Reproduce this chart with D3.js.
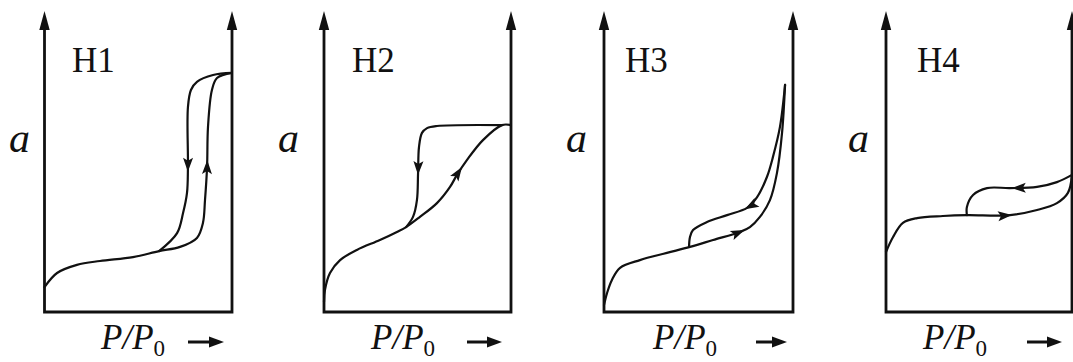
<!DOCTYPE html>
<html>
<head>
<meta charset="utf-8">
<script src="https://cdn.jsdelivr.net/npm/d3@7/dist/d3.min.js"></script>
<style>
  html, body { margin: 0; padding: 0; background: #fff; }
  svg { display: block; }
</style>
</head>
<body>
<svg id="chart" width="1073" height="362"></svg>
<script>
// ---------------- DATA (relative pressure u: 0..100, adsorbed amount v: 0..100) ----------------
const panelNames = ["H1", "H2", "H3", "H4"];
const yAxisLabel = "a";
const xAxisLabel = ["P", "/", "P", "0"];

const h1Adsorption = [[0,8.3],[6.7,13],[17.3,15.7],[29.6,17],[47.2,18.3],[61.1,20.3],[72.3,21.7],[81.3,24.7],[84.5,29.7],[85.6,37.3],[86.7,48.3],[87.2,61.7],[89.3,74],[92,78],[100,79.7]];
const h1Desorption = [[100,79.7],[89.9,79],[81.3,76.7],[78.1,74],[76.5,68.3],[76.5,48.3],[76,39.7],[73.9,33],[70.7,26.3],[61.1,20.3]];

const h2Adsorption = [[0,3.3],[0.5,7.3],[3.2,13],[8.6,17.3],[17.6,20.7],[29.9,24],[39,26.7],[43.9,28.3],[51.3,31.7],[60.4,36.3],[67.4,41.7],[71.1,45.7],[76.5,50.7],[85,57.3],[95.2,62.3],[100,62.3]];
const h2Desorption = [[95.2,62.3],[60.4,62],[55.1,61.3],[52.4,59.7],[50.8,55],[50.3,46.3],[49.7,37.3],[47.6,31.7],[43.9,28.3]];

const h3Adsorption = [[0,2.3],[1.6,6.3],[4.2,10.7],[8.5,14.7],[19,17.3],[33.3,19.7],[45.5,21.7],[57.7,24],[72,26.7],[77.2,28.3],[82.5,31.7],[87.8,37.3],[91.5,46.3],[94.2,59.7],[95.8,75.7]];
const h3Desorption = [[95.8,75.7],[93.1,61.7],[89.4,51.7],[86.2,45],[81,38.3],[75.7,34.7],[65.1,32.3],[54.5,30],[47.1,27.3],[45.5,25],[45,21.7]];

const h4Adsorption = [[0,20],[3.8,25],[9.1,29.7],[16.7,31.3],[30.6,32],[43.5,32.3],[66.7,32.3],[81.2,34],[91.9,36.3],[97.8,39.7],[100,45.7]];
const h4Desorption = [[100,45.7],[91.9,43.3],[81.2,41.7],[66.7,41.3],[54.3,41.3],[46.8,39],[43.5,35],[43.5,32.3]];

const adsorption = [h1Adsorption, h2Adsorption, h3Adsorption, h4Adsorption];
const desorption = [h1Desorption, h2Desorption, h3Desorption, h4Desorption];

// arrow markers on the branches (data coords of the arrow tip)
const adsArrowAt = [[86.9,50.7],[73.3,48.4],[73.7,28.4],[67.6,32.3]];
const desArrowAt = [[76.5,46.7],[50.4,45.7],[74.6,34],[67.6,41.2]];

// ---------------- LAYOUT (pixels) ----------------
const layout = [
  {x0: 44.5, x1: 232,  label: 72,  a: 9,   pp: 101, arr: [188, 224]},
  {x0: 324,  x1: 511,  label: 352, a: 278, pp: 371, arr: [467, 502]},
  {x0: 604,  x1: 793,  label: 625, a: 566, pp: 653, arr: [756, 787]},
  {x0: 886,  x1: 1072, label: 917, a: 848, pp: 923, arr: [1027, 1062]}
];
const yBottom = 312, yTop = 12;
const ink = "#111";
const serif = "'Liberation Serif', 'Times New Roman', Times, serif";

const svg = d3.select("#chart");

function headPath(len, half, notch) {
  return `M0,0 L${-len},${-half} L${-len + notch},0 L${-len},${half} Z`;
}

panelNames.forEach((name, i) => {
  const L = layout[i];
  const x = d3.scaleLinear().domain([0, 100]).range([L.x0, L.x1]);
  const y = d3.scaleLinear().domain([0, 100]).range([yBottom, yTop]);
  const g = svg.append("g");

  // frame: left axis, right axis, bottom
  g.append("path")
    .attr("d", `M${x(0)},${y(100) + 10} L${x(0)},${y(0)} L${x(100)},${y(0)} L${x(100)},${y(100) + 10}`)
    .attr("fill", "none").attr("stroke", ink).attr("stroke-width", 2.8)
    .attr("stroke-linejoin", "miter");
  [0, 100].forEach(u => {
    g.append("path")
      .attr("d", headPath(19, 5.2, 0))
      .attr("transform", `translate(${x(u)},${y(100) - 1}) rotate(-90)`)
      .attr("fill", ink);
  });

  // curves
  const line = d3.line().x(d => x(d[0])).y(d => y(d[1])).curve(d3.curveCatmullRom.alpha(0.5));
  const branches = [
    {data: adsorption[i], at: adsArrowAt[i]},
    {data: desorption[i], at: desArrowAt[i]}
  ];
  branches.forEach(b => {
    const p = g.append("path")
      .attr("d", line(b.data))
      .attr("fill", "none").attr("stroke", ink).attr("stroke-width", 2.2)
      .attr("stroke-linecap", "round");
    const node = p.node();
    const total = node.getTotalLength();
    const tx = x(b.at[0]), ty = y(b.at[1]);
    let best = 0, bestD = Infinity;
    for (let l = 0; l <= total; l += 0.5) {
      const pt = node.getPointAtLength(l);
      const d = (pt.x - tx) ** 2 + (pt.y - ty) ** 2;
      if (d < bestD) { bestD = d; best = l; }
    }
    const pt = node.getPointAtLength(best);
    const a0 = node.getPointAtLength(Math.max(0, best - 3));
    const a1 = node.getPointAtLength(Math.min(total, best + 1));
    const ang = Math.atan2(a1.y - a0.y, a1.x - a0.x) * 180 / Math.PI;
    g.append("path")
      .attr("d", headPath(14, 5, 3))
      .attr("transform", `translate(${pt.x},${pt.y}) rotate(${ang})`)
      .attr("fill", ink);
  });

  // labels
  g.append("text")
    .attr("x", L.label).attr("y", 72)
    .style("font-family", serif).style("font-size", "35px").attr("fill", ink)
    .text(name);

  g.append("text")
    .attr("x", L.a).attr("y", 152)
    .style("font-family", serif).style("font-size", "42px").style("font-style", "italic")
    .attr("fill", ink)
    .text(yAxisLabel);

  const t = g.append("text").attr("x", L.pp).attr("y", 349)
    .style("font-family", serif).style("font-size", "35px").attr("fill", ink);
  t.append("tspan").style("font-style", "italic").text(xAxisLabel[0]);
  t.append("tspan").style("font-style", "italic").text(xAxisLabel[1]);
  t.append("tspan").style("font-style", "italic").text(xAxisLabel[2]);
  t.append("tspan").style("font-size", "23px").attr("dy", 7).text(xAxisLabel[3]);

  // P/P0 direction arrow
  g.append("line")
    .attr("x1", L.arr[0]).attr("y1", 342).attr("x2", L.arr[1] - 8).attr("y2", 342)
    .attr("stroke", ink).attr("stroke-width", 3);
  g.append("path")
    .attr("d", headPath(15, 5.5, 0))
    .attr("transform", `translate(${L.arr[1]},342)`)
    .attr("fill", ink);
});
</script>
</body>
</html>
